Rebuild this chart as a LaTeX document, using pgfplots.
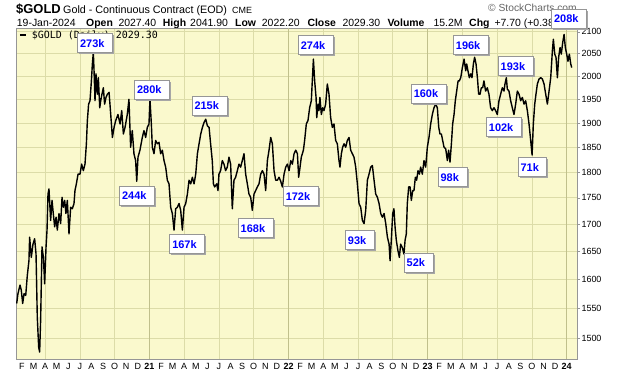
\documentclass[border=0pt]{standalone}
\usepackage{pgfplots}
\pgfplotsset{compat=1.18}
\usepackage{pgfplotstable}
\usepackage{fontspec}
\setmainfont{Liberation Sans}
\newfontfamily\monofont{DejaVu Sans Mono}
\usetikzlibrary{shadows}
\definecolor{bg}{RGB}{250,249,205}
\definecolor{gridc}{RGB}{220,220,168}
\definecolor{yearc}{RGB}{192,192,140}
\definecolor{boxblue}{RGB}{0,0,255}
\definecolor{framec}{RGB}{150,150,150}
\tikzset{vol/.style={draw=framec, fill=white, line width=0.8bp, inner ysep=0bp, inner xsep=0bp,
  minimum height=19bp, text=boxblue, font=\fontsize{11}{11}\selectfont\bfseries,
  drop shadow={shadow xshift=1.6bp, shadow yshift=-1.6bp, fill=black!35, opacity=1}}}
\newcommand{\vl}[1]{\hspace*{2.5bp}#1\hspace*{8bp}}
\pgfplotstableread{
x y
2020.046 1558
2020.055 1575
2020.070 1590
2020.079 1581
2020.089 1558
2020.099 1575
2020.111 1572
2020.122 1606
2020.134 1633
2020.139 1676
2020.151 1639
2020.163 1663
2020.175 1673
2020.185 1645
2020.194 1535
2020.204 1485
2020.211 1477
2020.218 1529
2020.228 1658
2020.238 1639
2020.247 1592
2020.257 1658
2020.264 1689
2020.271 1757
2020.278 1767
2020.290 1707
2020.300 1745
2020.309 1720
2020.319 1695
2020.329 1713
2020.338 1689
2020.350 1720
2020.362 1701
2020.372 1751
2020.381 1732
2020.391 1745
2020.400 1720
2020.410 1745
2020.422 1682
2020.434 1732
2020.446 1729
2020.458 1739
2020.465 1764
2020.475 1777
2020.487 1796
2020.501 1796
2020.513 1816
2020.525 1803
2020.537 1816
2020.547 1857
2020.554 1905
2020.563 1940
2020.573 1947
2020.583 1990
2020.590 2027
2020.597 2053
2020.602 2012
2020.609 1947
2020.616 2005
2020.626 1961
2020.633 1997
2020.643 1932
2020.650 1947
2020.659 1961
2020.669 1975
2020.678 1940
2020.688 1954
2020.698 1961
2020.710 1965
2020.722 1918
2020.734 1870
2020.746 1891
2020.758 1905
2020.774 1918
2020.789 1898
2020.801 1926
2020.813 1877
2020.825 1891
2020.841 1918
2020.853 1950
2020.865 1850
2020.877 1884
2020.889 1837
2020.901 1823
2020.909 1782
2020.918 1830
2020.932 1844
2020.949 1870
2020.961 1884
2020.973 1870
2020.985 1891
2020.997 1898
2021.004 1950
2021.014 1898
2021.021 1850
2021.033 1837
2021.045 1864
2021.057 1857
2021.069 1860
2021.081 1837
2021.093 1844
2021.105 1823
2021.117 1810
2021.129 1784
2021.141 1777
2021.153 1732
2021.165 1720
2021.177 1689
2021.189 1729
2021.201 1732
2021.213 1739
2021.225 1726
2021.237 1689
2021.249 1732
2021.261 1739
2021.273 1757
2021.285 1784
2021.297 1777
2021.309 1790
2021.321 1777
2021.333 1796
2021.345 1837
2021.357 1857
2021.369 1877
2021.381 1891
2021.393 1901
2021.405 1908
2021.417 1894
2021.429 1891
2021.440 1857
2021.452 1823
2021.460 1777
2021.469 1771
2021.484 1777
2021.493 1764
2021.500 1796
2021.512 1803
2021.524 1823
2021.536 1816
2021.548 1803
2021.560 1810
2021.572 1830
2021.584 1816
2021.596 1729
2021.608 1784
2021.620 1790
2021.632 1803
2021.644 1816
2021.656 1810
2021.668 1823
2021.680 1837
2021.692 1796
2021.704 1777
2021.716 1757
2021.728 1751
2021.740 1726
2021.752 1757
2021.764 1764
2021.776 1771
2021.788 1777
2021.800 1796
2021.812 1803
2021.824 1796
2021.836 1764
2021.848 1823
2021.860 1844
2021.872 1870
2021.884 1857
2021.896 1803
2021.908 1784
2021.920 1784
2021.932 1790
2021.944 1782
2021.956 1771
2021.968 1796
2021.980 1810
2021.992 1816
2022.004 1803
2022.016 1823
2022.028 1816
2022.040 1837
2022.052 1844
2022.064 1837
2022.073 1790
2022.083 1810
2022.092 1830
2022.107 1844
2022.116 1864
2022.128 1898
2022.140 1905
2022.152 1932
2022.164 1947
2022.171 1990
2022.179 2038
2022.188 1990
2022.198 1954
2022.203 1911
2022.212 1940
2022.219 1926
2022.226 1954
2022.236 1918
2022.246 1932
2022.255 1926
2022.267 1940
2022.279 1983
2022.291 1961
2022.303 1911
2022.315 1891
2022.327 1898
2022.339 1864
2022.351 1857
2022.363 1823
2022.370 1810
2022.380 1837
2022.389 1850
2022.399 1857
2022.411 1850
2022.423 1864
2022.435 1870
2022.447 1844
2022.459 1837
2022.471 1830
2022.483 1810
2022.495 1777
2022.507 1739
2022.519 1732
2022.531 1707
2022.543 1701
2022.555 1726
2022.567 1784
2022.579 1796
2022.591 1810
2022.603 1813
2022.615 1784
2022.627 1757
2022.639 1751
2022.651 1739
2022.663 1720
2022.675 1713
2022.687 1720
2022.699 1701
2022.711 1676
2022.723 1663
2022.730 1633
2022.739 1670
2022.749 1720
2022.758 1729
2022.766 1695
2022.775 1670
2022.787 1651
2022.797 1639
2022.806 1663
2022.818 1657
2022.830 1645
2022.838 1670
2022.847 1682
2022.854 1739
2022.864 1771
2022.874 1771
2022.883 1745
2022.893 1764
2022.902 1764
2022.912 1790
2022.921 1784
2022.931 1803
2022.941 1796
2022.950 1810
2022.962 1796
2022.974 1823
2022.986 1810
2022.998 1850
2023.010 1870
2023.022 1898
2023.034 1918
2023.046 1932
2023.058 1940
2023.070 1932
2023.080 1891
2023.089 1877
2023.099 1877
2023.108 1864
2023.118 1850
2023.130 1847
2023.142 1823
2023.151 1844
2023.161 1820
2023.171 1857
2023.180 1898
2023.190 1918
2023.199 1947
2023.209 1968
2023.219 1990
2023.228 1990
2023.238 1997
2023.250 2019
2023.262 2038
2023.274 2012
2023.281 2027
2023.290 2012
2023.300 1997
2023.310 2005
2023.319 1997
2023.329 2027
2023.338 2042
2023.348 2027
2023.358 1997
2023.367 1961
2023.377 1961
2023.386 1975
2023.396 1975
2023.405 1990
2023.417 1968
2023.429 1975
2023.441 1961
2023.453 1932
2023.465 1926
2023.477 1932
2023.489 1926
2023.501 1918
2023.513 1947
2023.525 1961
2023.537 1975
2023.549 1968
2023.556 1983
2023.566 1997
2023.573 1972
2023.585 1968
2023.597 1947
2023.609 1932
2023.621 1918
2023.633 1940
2023.645 1968
2023.657 1961
2023.669 1947
2023.681 1954
2023.693 1940
2023.705 1947
2023.717 1926
2023.729 1898
2023.741 1864
2023.751 1834
2023.760 1898
2023.770 1940
2023.779 1961
2023.789 1983
2023.801 1994
2023.813 1997
2023.825 1994
2023.837 1983
2023.849 1961
2023.861 1940
2023.873 1968
2023.885 1997
2023.897 2057
2023.904 2083
2023.914 2049
2023.923 2042
2023.933 1997
2023.942 2042
2023.952 2064
2023.961 2049
2023.971 2075
2023.981 2094
2023.990 2064
2024.000 2049
2024.009 2033
2024.019 2049
2024.029 2027
2024.036 2019
}\golddata
\begin{document}
\begin{tikzpicture}[x=1bp,y=1bp]
\useasboundingbox (0,0) rectangle (620,376);
\fill[white] (0,0) rectangle (620,376);
% header
\node[anchor=base west, inner sep=0, font=\fontsize{13}{13}\selectfont\bfseries] at (16,362.7) {\$GOLD};
\node[anchor=base west, inner sep=0, font=\fontsize{10.8}{11}\selectfont] at (63,362.7) {Gold - Continuous Contract (EOD)};
\node[anchor=base west, inner sep=0, font=\fontsize{9}{9}\selectfont] at (232,362.7) {CME};
\node[anchor=base west, inner sep=0, text=black!60, font=\fontsize{10.3}{10}\selectfont] at (488,364.5) {\textcopyright\ StockCharts.com};
\begin{scope}[font=\fontsize{10.5}{10.5}\selectfont]
\node[anchor=base west, inner sep=0] at (16.7,349.3) {19-Jan-2024};
\node[anchor=base west, inner sep=0, font=\fontsize{10.5}{10.5}\selectfont\bfseries] at (86,349.3) {Open};
\node[anchor=base west, inner sep=0] at (118.3,349.3) {2027.40};
\node[anchor=base west, inner sep=0, font=\fontsize{10.5}{10.5}\selectfont\bfseries] at (162.7,349.3) {High};
\node[anchor=base west, inner sep=0] at (190,349.3) {2041.90};
\node[anchor=base west, inner sep=0, font=\fontsize{10.5}{10.5}\selectfont\bfseries] at (235,349.3) {Low};
\node[anchor=base west, inner sep=0] at (261.7,349.3) {2022.20};
\node[anchor=base west, inner sep=0, font=\fontsize{10.5}{10.5}\selectfont\bfseries] at (307.3,349.3) {Close};
\node[anchor=base west, inner sep=0] at (342.3,349.3) {2029.30};
\node[anchor=base west, inner sep=0, font=\fontsize{10.5}{10.5}\selectfont\bfseries] at (387.3,349.3) {Volume};
\node[anchor=base west, inner sep=0] at (433.3,349.3) {15.2M};
\node[anchor=base west, inner sep=0, font=\fontsize{10.5}{10.5}\selectfont\bfseries] at (469,349.3) {Chg};
\node[anchor=base west, inner sep=0] at (494.3,349.3) {+7.70 (+0.38\%)};
\end{scope}
\begin{axis}[
  at={(16bp,17bp)}, anchor=south west,
  scale only axis, width=561bp, height=331bp,
  clip=false,
  xmin=2020.041, xmax=2024.074,
  ymode=log, ymin=1466, ymax=2109,
  axis background/.style={fill=bg},
  axis line style={framec, line width=0.7bp},
  ytick={1500,1550,1600,1650,1700,1750,1800,1850,1900,1950,2000,2050,2100},
  yticklabels={1500,1550,1600,1650,1700,1750,1800,1850,1900,1950,2000,2050,2100},
  minor y tick num=0,
  ytick pos=right, yticklabel pos=right,
  tick align=outside, major tick length=3bp,
  ytick style={framec, line width=0.6bp},
  ymajorgrids, major grid style={gridc, line width=0.7bp},
  y tick label style={font=\fontsize{9}{9}\selectfont, /pgf/number format/assume math mode=true, xshift=-2bp},
  xtick={2020.0833,2020.1667,2020.25,2020.3333,2020.4167,2020.5,2020.5833,2020.6667,2020.75,2020.8333,2020.9167,
         2021,2021.0833,2021.1667,2021.25,2021.3333,2021.4167,2021.5,2021.5833,2021.6667,2021.75,2021.8333,2021.9167,
         2022,2022.0833,2022.1667,2022.25,2022.3333,2022.4167,2022.5,2022.5833,2022.6667,2022.75,2022.8333,2022.9167,
         2023,2023.0833,2023.1667,2023.25,2023.3333,2023.4167,2023.5,2023.5833,2023.6667,2023.75,2023.8333,2023.9167,
         2024},
  xticklabels={F,M,A,M,J,J,A,S,O,N,D,{\textbf{21}},F,M,A,M,J,J,A,S,O,N,D,{\textbf{22}},F,M,A,M,J,J,A,S,O,N,D,{\textbf{23}},F,M,A,M,J,J,A,S,O,N,D,{\textbf{24}}},
  xtick style={draw=none},
  x tick label style={font=\fontsize{9}{9}\selectfont, inner sep=1bp},
  minor xtick={2020.25,2020.5,2020.75,2021.25,2021.5,2021.75,2022.25,2022.5,2022.75,2023.25,2023.5,2023.75},
  xminorgrids, minor grid style={gridc, line width=0.7bp}, minor tick length=0,
  extra x ticks={2021,2022,2023,2024}, extra x tick labels={},
  extra x tick style={xmajorgrids=true, major grid style={yearc, line width=0.9bp}, tick style={draw=none}},
]
\addplot[black, line width=1.4bp, line join=round] table[x=x, y=y] {\golddata};
\draw[black, line width=2bp] (rel axis cs:0.007,0.980) -- (rel axis cs:0.018,0.980);
\node[anchor=base west, inner sep=0, font=\monofont\fontsize{10}{10}\selectfont] at (rel axis cs:0.028,0.969) {\$GOLD (Daily) 2029.30};
\node[vol] at (axis cs:2020.609,2074) {\vl{273k}};
\node[vol] at (axis cs:2021.019,1971) {\vl{280k}};
\node[vol] at (axis cs:2020.911,1754) {\vl{244k}};
\node[vol] at (axis cs:2021.432,1937) {\vl{215k}};
\node[vol] at (axis cs:2021.272,1663) {\vl{167k}};
\node[vol] at (axis cs:2021.764,1692) {\vl{168k}};
\node[vol] at (axis cs:2022.088,1753) {\vl{172k}};
\node[vol] at (axis cs:2022.196,2069) {\vl{274k}};
\node[vol] at (axis cs:2022.513,1670) {\vl{93k}};
\node[vol] at (axis cs:2022.935,1630) {\vl{52k}};
\node[vol] at (axis cs:2023.008,1962) {\vl{160k}};
\node[vol] at (axis cs:2023.179,1790) {\vl{98k}};
\node[vol] at (axis cs:2023.311,2069) {\vl{196k}};
\node[vol] at (axis cs:2023.633,2022) {\vl{193k}};
\node[vol] at (axis cs:2023.548,1891) {\vl{102k}};
\node[vol] at (axis cs:2023.754,1810) {\vl{71k}};
\node[vol] at (axis cs:2024.017,2131) {\vl{208k}};
\end{axis}
\end{tikzpicture}
\end{document}
